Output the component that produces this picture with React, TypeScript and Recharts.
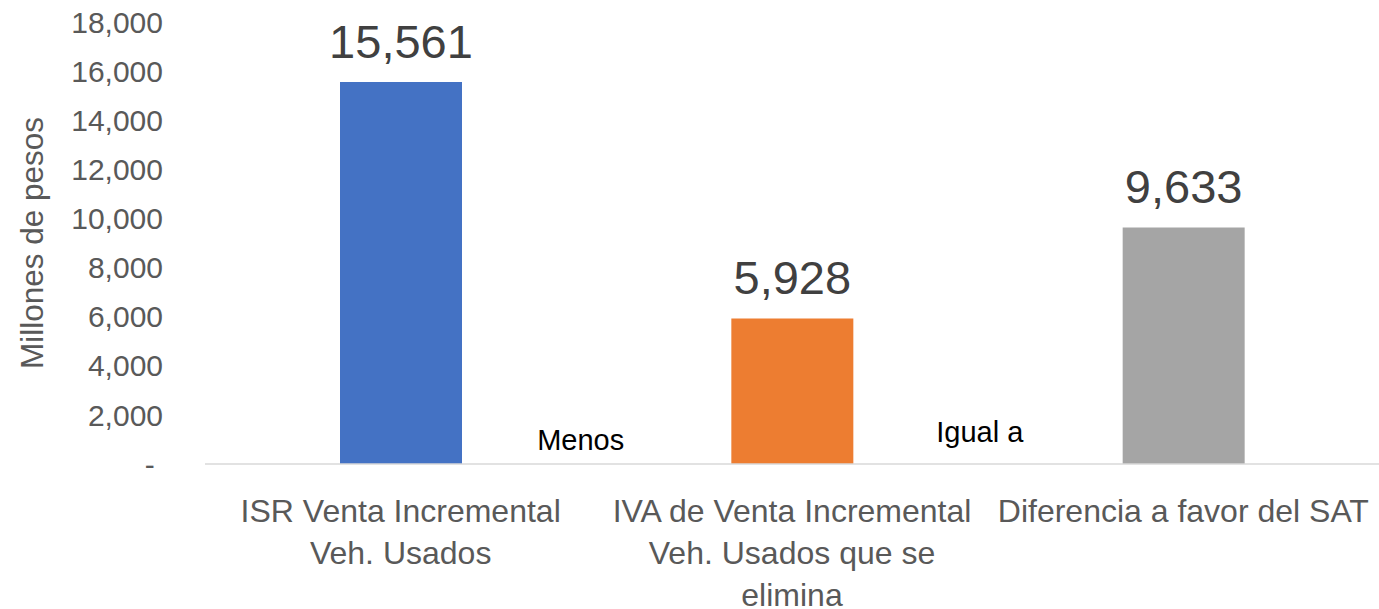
import { BarChart, Bar, XAxis, YAxis, Cell, LabelList, ReferenceDot } from "recharts";

// chart data
const categories = [
  "ISR Venta Incremental\nVeh. Usados",
  "IVA de Venta Incremental\nVeh. Usados que se\nelimina",
  "Diferencia a favor del SAT",
];
const values = [15561, 5928, 9633];
const barColors = ["#4472C4", "#ED7D31", "#A5A5A5"];
const yTicks = [0, 2000, 4000, 6000, 8000, 10000, 12000, 14000, 16000, 18000];

// text notes placed between the bars (x on a 0..3 band scale, y in pesos)
const notes = [
  { x: 0.96, y: 570, text: "Menos" },
  { x: 1.98, y: 900, text: "Igual a" },
];

const data = categories.map((name, i) => ({ name, value: values[i], pos: i + 0.5 }));

const FONT = "'Liberation Sans', Arial, sans-serif";

const fmtTick = (v: number) => (v === 0 ? "-\u00a0" : v.toLocaleString("en-US"));

const CategoryTick = ({ x, y, payload }: any) => {
  const lines = String(payload.value).split("\n");
  return (
    <text x={x} y={y} textAnchor="middle" fill="#595959" fontSize={32} fontFamily={FONT}>
      {lines.map((line, i) => (
        <tspan key={i} x={x} dy={i === 0 ? 58 : 42}>
          {line}
        </tspan>
      ))}
    </text>
  );
};

const NoteLabel = ({ viewBox, value }: any) => (
  <text
    x={viewBox.x + viewBox.width / 2}
    y={viewBox.y + viewBox.height / 2}
    textAnchor="middle"
    fill="#000000"
    fontSize={29}
    fontFamily={FONT}
  >
    {value}
  </text>
);

export default function App() {
  return (
    <div style={{ position: "absolute", left: 0, top: 0, background: "#fff" }}>
      <BarChart
        width={1379}
        height={609}
        data={data}
        margin={{ top: 22, right: 0, bottom: 0, left: 0 }}
      >
        <XAxis
          xAxisId="cat"
          dataKey="name"
          tick={<CategoryTick />}
          tickLine={false}
          tickSize={0}
          tickMargin={0}
          axisLine={{ stroke: "#D9D9D9", strokeWidth: 1.5 }}
          interval={0}
          height={145}
        />
        <XAxis
          xAxisId="num"
          dataKey="pos"
          type="number"
          domain={[0, 3]}
          hide
          allowDataOverflow
        />
        <YAxis
          width={205}
          domain={[0, 18000]}
          ticks={yTicks}
          interval={0}
          tickFormatter={fmtTick}
          axisLine={false}
          tickLine={false}
          tickSize={0}
          tickMargin={42}
          tick={{ fill: "#595959", fontSize: 30, fontFamily: FONT }}
          label={{
            value: "Millones de pesos",
            angle: -90,
            position: "center",
            dx: -71,
            fill: "#595959",
            fontSize: 31.5,
            fontFamily: FONT,
          }}
        />
        <Bar xAxisId="cat" dataKey="value" barSize={122} isAnimationActive={false}>
          {data.map((d, i) => (
            <Cell key={d.name} fill={barColors[i]} />
          ))}
          <LabelList
            dataKey="value"
            position="top"
            offset={24}
            formatter={(v: any) => Number(v).toLocaleString("en-US")}
            fill="#404040"
            fontSize={47}
            fontFamily={FONT}
          />
        </Bar>
        {notes.map((n) => (
          <ReferenceDot
            key={n.text}
            xAxisId="num"
            x={n.x}
            y={n.y}
            r={0}
            fill="none"
            stroke="none"
            label={<NoteLabel value={n.text} />}
          />
        ))}
      </BarChart>
    </div>
  );
}
